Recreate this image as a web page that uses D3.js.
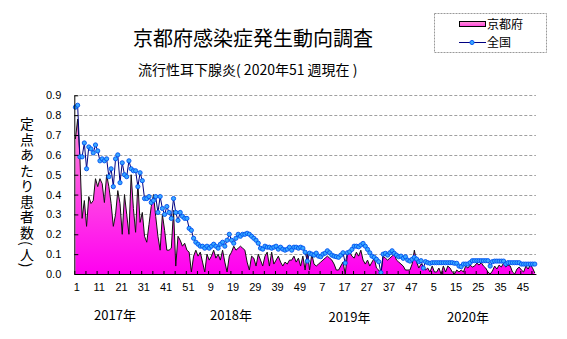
<!DOCTYPE html>
<html><head><meta charset="utf-8">
<script src="https://cdn.jsdelivr.net/npm/d3@7"></script>
<style>
html,body{margin:0;padding:0;background:#fff;}
svg{display:block;font-family:"Noto Sans CJK JP","Liberation Sans",sans-serif;}
</style></head>
<body>
<svg id="c" width="567" height="339"></svg>
<script>
const title = "京都府感染症発生動向調査";
const subtitle = "流行性耳下腺炎( 2020年51 週現在 )";
const yLabel = "定点あたり患者数(人)";
const seriesNames = ["京都府", "全国"];
const years = ["2017年", "2018年", "2019年", "2020年"];
const weeksPerYear = [52, 52, 52, 51];
const yTicks = [0, 0.1, 0.2, 0.3, 0.4, 0.5, 0.6, 0.7, 0.8, 0.9];

const kyoto = [
 0.68,0.78,0.59,0.28,0.37,0.24,0.39,0.355,0.37,0.48,
 0.44,0.48,0.455,0.36,0.50,0.44,0.355,0.24,0.30,0.42,
 0.355,0.20,0.40,0.30,0.20,0.50,0.33,0.21,0.46,0.26,
 0.31,0.19,0.16,0.25,0.34,0.40,0.29,0.19,0.12,0.30,
 0.22,0.12,0.12,0.13,0.32,0.04,0.19,0.17,0.14,0.155,
 0.12,0.11,0.01,0.09,0.12,0.09,0.11,0.06,0.01,0.10,
 0.07,0.09,0.12,0.08,0.10,0.07,0.12,0.06,0.01,0.09,
 0.11,0.14,0.12,0.13,0.14,0.13,0.12,0.06,0.02,0.09,
 0.08,0.04,0.10,0.07,0.04,0.09,0.11,0.04,0.11,0.05,
 0.07,0.09,0.06,0.04,0.06,0.05,0.07,0.07,0.09,0.06,
 0.08,0.04,0.09,0.02,0.11,0.02,0.10,0.05,0.04,0.05,
 0.06,0.07,0.08,0.09,0.08,0.07,0.05,0.02,0.02,0.04,
 0.06,0.00,0.10,0.11,0.09,0.08,0.11,0.09,0.12,0.07,
 0.05,0.07,0.04,0.06,0.08,0.03,0.02,0.00,0.09,0.08,
 0.07,0.08,0.09,0.10,0.07,0.06,0.05,0.04,0.02,0.02,
 0.02,0.05,0.12,0.06,0.03,0.05,0.04,0.02,0.03,0.01,
 0.04,0.01,0.01,0.03,0.00,0.04,0.01,0.04,0.03,0.01,
 0.00,0.02,0.01,0.02,0.01,0.04,0.03,0.045,0.035,0.04,
 0.055,0.045,0.057,0.04,0.03,0.01,0.00,0.015,0.04,0.025,
 0.045,0.035,0.055,0.035,0.045,0.04,0.01,0.00,0.025,0.035,
 0.02,0.01,0.04,0.025,0.045,0.03,0.005
];

const national = [
 0.84,0.85,0.59,0.59,0.66,0.53,0.64,0.63,0.61,0.65,
 0.62,0.57,0.58,0.57,0.58,0.49,0.53,0.44,0.58,0.60,
 0.46,0.56,0.50,0.49,0.57,0.53,0.52,0.52,0.44,0.51,
 0.47,0.38,0.38,0.39,0.36,0.37,0.39,0.31,0.39,0.33,
 0.30,0.34,0.31,0.28,0.38,0.31,0.27,0.31,0.29,0.28,
 0.28,0.23,0.22,0.18,0.16,0.15,0.14,0.14,0.13,0.14,
 0.13,0.14,0.15,0.14,0.13,0.15,0.16,0.14,0.17,0.20,
 0.17,0.155,0.18,0.20,0.19,0.20,0.20,0.205,0.20,0.19,
 0.18,0.17,0.155,0.13,0.125,0.14,0.135,0.135,0.13,0.135,
 0.14,0.125,0.135,0.125,0.12,0.125,0.135,0.12,0.135,0.135,
 0.13,0.135,0.13,0.11,0.065,0.105,0.10,0.095,0.105,0.09,
 0.087,0.10,0.105,0.117,0.107,0.095,0.09,0.087,0.084,0.095,
 0.107,0.055,0.107,0.112,0.124,0.14,0.14,0.137,0.146,0.154,
 0.14,0.124,0.107,0.09,0.084,0.074,0.062,0.007,0.10,0.104,
 0.095,0.107,0.117,0.104,0.095,0.087,0.09,0.079,0.087,0.07,
 0.065,0.074,0.084,0.075,0.062,0.067,0.03,0.062,0.057,0.054,
 0.057,0.057,0.057,0.057,0.057,0.057,0.057,0.057,0.057,0.057,
 0.054,0.054,0.04,0.037,0.05,0.05,0.05,0.057,0.067,0.067,
 0.067,0.067,0.067,0.067,0.067,0.067,0.04,0.062,0.065,0.065,
 0.065,0.065,0.065,0.05,0.057,0.057,0.057,0.057,0.057,0.057,
 0.05,0.05,0.05,0.05,0.05,0.05,0.05
];

// week number for every category
const weekLabels = [];
weeksPerYear.forEach(n => { for (let w = 1; w <= n; w++) weekLabels.push(w); });
const N = weekLabels.length;
const idx = d3.range(N);

const svg = d3.select("#c");
const jp = '"Noto Sans CJK JP",sans-serif';
const num = '"Liberation Sans",Arial,sans-serif';

const x = d3.scaleBand().domain(idx).range([74.3, 535.9]).paddingInner(0).paddingOuter(0);
const xc = i => x(i) + x.bandwidth() / 2;
const xl = d3.scaleLinear().domain([0, N]).range([74.3, 535.9]);
const y = d3.scaleLinear().domain([0, 0.9]).range([274, 95.3]);

const defs = svg.append("defs");
const g1 = defs.append("linearGradient").attr("id", "pk").attr("gradientUnits", "userSpaceOnUse")
  .attr("x1", 0).attr("x2", 0).attr("y1", y(0.9)).attr("y2", y(0));
g1.append("stop").attr("offset", "0%").attr("stop-color", "#ff9ad6");
g1.append("stop").attr("offset", "100%").attr("stop-color", "#ff00f0");
const g2 = defs.append("linearGradient").attr("id", "pk2").attr("x1", 0).attr("x2", 0).attr("y1", 0).attr("y2", 1);
g2.append("stop").attr("offset", "0%").attr("stop-color", "#ff9ad6");
g2.append("stop").attr("offset", "100%").attr("stop-color", "#ff40e0");

// titles
svg.append("text").attr("x", 253).attr("y", 46).attr("text-anchor", "middle")
  .style("font-family", jp).style("font-size", "20px").text(title);
svg.append("text").attr("x", 138).attr("y", 75).attr("text-anchor", "start")
  .style("font-family", jp).style("font-size", "14px").text(subtitle);

// grid
svg.append("g").selectAll("line").data(yTicks.slice(1)).join("line")
  .attr("x1", 74.3).attr("x2", 535.9).attr("y1", d => Math.round(y(d)) + 0.5).attr("y2", d => Math.round(y(d)) + 0.5)
  .attr("stroke", "#a0a0a0").attr("stroke-dasharray", "3,2").attr("stroke-width", 1);

// Kyoto area + outline
svg.append("path").datum(kyoto)
  .attr("d", d3.area().x((d, i) => xc(i)).y0(y(0)).y1(d => y(d)))
  .attr("fill", "url(#pk)");
svg.append("path").datum(kyoto)
  .attr("d", d3.line().x((d, i) => xc(i)).y(d => y(d)))
  .attr("fill", "none").attr("stroke", "#111").attr("stroke-width", 1);

// national line + markers
svg.append("path").datum(national)
  .attr("d", d3.line().x((d, i) => xc(i)).y(d => y(d)))
  .attr("fill", "none").attr("stroke", "#000080").attr("stroke-width", 1);
svg.append("g").selectAll("circle").data(national).join("circle")
  .attr("cx", (d, i) => xc(i)).attr("cy", d => y(d)).attr("r", 2.1)
  .attr("fill", "#38a8ff").attr("stroke", "#0050f0").attr("stroke-width", 0.9);

// y axis
const ya = svg.append("g").attr("transform", "translate(74.3,0)")
  .call(d3.axisLeft(y).tickValues(yTicks).tickFormat(d3.format(".1f")).tickSizeInner(-4).tickSizeOuter(0).tickPadding(13));
ya.select(".domain").attr("stroke", "#000");
ya.selectAll("text").style("font-family", num).style("font-size", "11px").attr("fill", "#000");

// x axis: minor inner ticks + labels
const xt = svg.append("g").attr("transform", "translate(0,274)")
  .call(d3.axisBottom(xl).tickValues(d3.range(0, N + 1, 5)).tickSizeInner(-3).tickSizeOuter(0).tickFormat(""));
xt.select(".domain").attr("stroke", "#000").attr("stroke-width", 1.2);
const xa = svg.append("g").attr("transform", "translate(1.5,274)")
  .call(d3.axisBottom(x).tickValues(d3.range(0, N, 10)).tickFormat(i => weekLabels[i]).tickSize(0).tickPadding(9));
xa.select(".domain").remove();
xa.selectAll("text").style("font-family", num).style("font-size", "11px").attr("fill", "#000");

// year labels
let start = 0;
const yearCenters = [115, 231, 349.5, 468];
svg.append("g").selectAll("text").data(years).join("text")
  .attr("x", (d, k) => yearCenters[k]).attr("y", (d, k) => k < 2 ? 320 : 321.5)
  .attr("text-anchor", "middle").style("font-family", jp).style("font-size", "13px").text(d => d);

// y label (vertical)
svg.append("text").attr("x", 27).attr("y", 117)
  .style("writing-mode", "vertical-rl").style("font-family", jp).style("font-size", "14px")
  .style("letter-spacing", "1.5px").text(yLabel);

// legend
const lg = svg.append("g");
lg.append("rect").attr("x", 434.5).attr("y", 13.5).attr("width", 112).attr("height", 39)
  .attr("fill", "#fff").attr("stroke", "#999").attr("stroke-dasharray", "2,1");
lg.append("rect").attr("x", 459.5).attr("y", 21.5).attr("width", 26).attr("height", 5)
  .attr("fill", "url(#pk2)").attr("stroke", "#000").attr("stroke-width", 1);
lg.append("text").attr("x", 487).attr("y", 29).style("font-family", jp).style("font-size", "12px").text(seriesNames[0]);
lg.append("line").attr("x1", 459).attr("x2", 486).attr("y1", 42.5).attr("y2", 42.5).attr("stroke", "#000080");
lg.append("circle").attr("cx", 472).attr("cy", 42.5).attr("r", 2.1).attr("fill", "#38a8ff").attr("stroke", "#0050f0").attr("stroke-width", 0.9);
lg.append("text").attr("x", 487).attr("y", 47).style("font-family", jp).style("font-size", "12px").text(seriesNames[1]);
</script>
</body></html>
